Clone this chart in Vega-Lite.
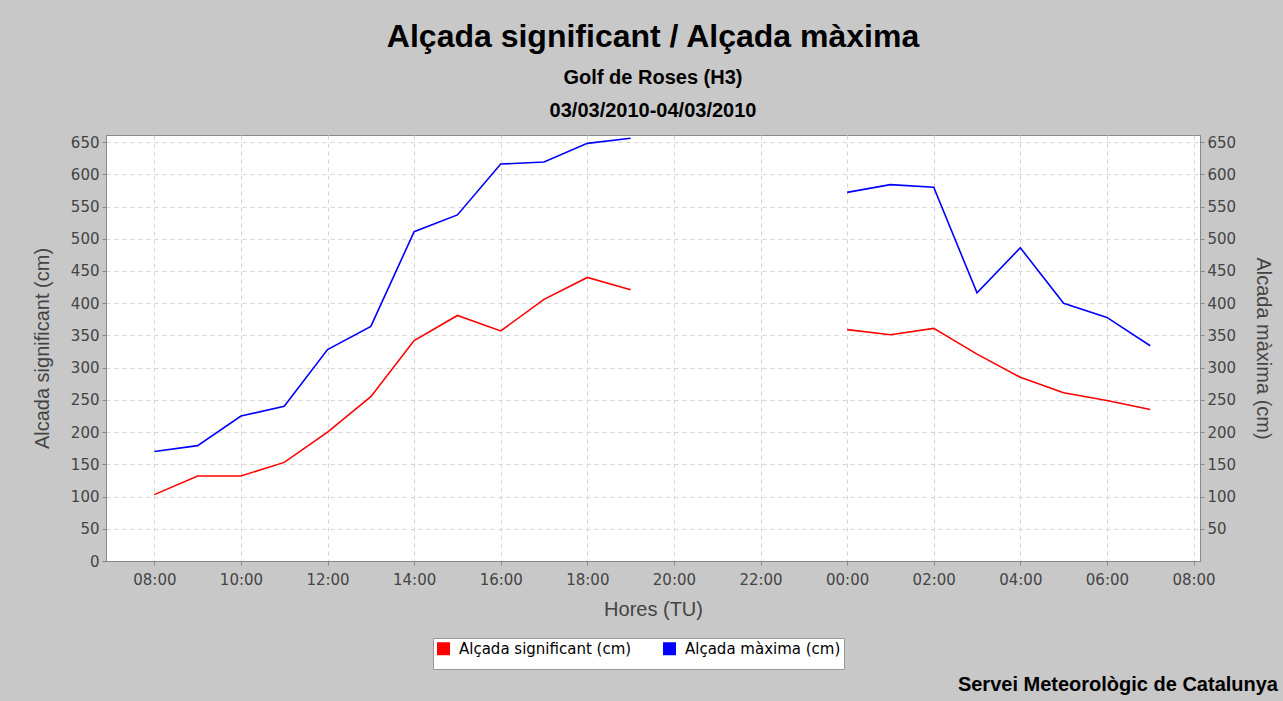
{
  "$schema": "https://vega.github.io/schema/vega-lite/v6.json",
  "autosize": "none",
  "padding": {"left": 106, "top": 135, "right": 83, "bottom": 140},
  "background": "#c8c8c8",
  "width": 1094,
  "height": 426,
  "title": {
    "text": "Alçada significant / Alçada màxima",
    "subtitle": ["Golf de Roses (H3)", "03/03/2010-04/03/2010"],
    "anchor": "middle",
    "frame": "group",
    "font": "Liberation Sans",
    "fontSize": 32,
    "fontWeight": "bold",
    "color": "#000000",
    "subtitleFont": "Liberation Sans",
    "subtitleFontSize": 20,
    "subtitleFontWeight": "bold",
    "subtitleColor": "#000000",
    "subtitleLineHeight": 33,
    "subtitlePadding": 14,
    "offset": 13
  },
  "config": {
    "view": {"stroke": "#888888", "strokeWidth": 1, "fill": "#ffffff"},
    "axis": {
      "labelFont": "DejaVu Sans",
      "labelFontSize": 15,
      "labelColor": "#444444",
      "titleFont": "Liberation Sans",
      "titleFontSize": 20,
      "titleFontWeight": "normal",
      "titleColor": "#444444",
      "domainColor": "#888888",
      "tickColor": "#888888",
      "tickSize": 4,
      "labelPadding": 3,
      "gridColor": "#d4d4d4",
      "gridDash": [4, 4],
      "gridWidth": 1
    }
  },
  "datasets": {
    "obs": [
      {"t": "2010-03-03T08:00:00Z", "d": 1, "sig": 103, "max": 170},
      {"t": "2010-03-03T09:00:00Z", "d": 1, "sig": 132, "max": 179},
      {"t": "2010-03-03T10:00:00Z", "d": 1, "sig": 132, "max": 225},
      {"t": "2010-03-03T11:00:00Z", "d": 1, "sig": 153, "max": 240},
      {"t": "2010-03-03T12:00:00Z", "d": 1, "sig": 200, "max": 328},
      {"t": "2010-03-03T13:00:00Z", "d": 1, "sig": 255, "max": 364},
      {"t": "2010-03-03T14:00:00Z", "d": 1, "sig": 342, "max": 511},
      {"t": "2010-03-03T15:00:00Z", "d": 1, "sig": 381, "max": 537},
      {"t": "2010-03-03T16:00:00Z", "d": 1, "sig": 357, "max": 616},
      {"t": "2010-03-03T17:00:00Z", "d": 1, "sig": 406, "max": 619},
      {"t": "2010-03-03T18:00:00Z", "d": 1, "sig": 440, "max": 648},
      {"t": "2010-03-03T19:00:00Z", "d": 1, "sig": 421, "max": 656},
      {"t": "2010-03-04T00:00:00Z", "d": 2, "sig": 359, "max": 572},
      {"t": "2010-03-04T01:00:00Z", "d": 2, "sig": 351, "max": 584},
      {"t": "2010-03-04T02:00:00Z", "d": 2, "sig": 361, "max": 580},
      {"t": "2010-03-04T03:00:00Z", "d": 2, "sig": 321, "max": 416},
      {"t": "2010-03-04T04:00:00Z", "d": 2, "sig": 285, "max": 486},
      {"t": "2010-03-04T05:00:00Z", "d": 2, "sig": 261, "max": 400},
      {"t": "2010-03-04T06:00:00Z", "d": 2, "sig": 249, "max": 378},
      {"t": "2010-03-04T07:00:00Z", "d": 2, "sig": 235, "max": 334}
    ],
    "credit": [
      {"label": "Servei Meteorològic de Catalunya", "t": "2010-03-04T08:09:00Z", "v": 0}
    ]
  },
  "layer": [
    {
      "data": {"name": "obs"},
      "mark": {"type": "line", "strokeWidth": 1.6},
      "encoding": {
        "x": {
          "field": "t",
          "type": "temporal",
          "scale": {
            "type": "utc",
            "domain": [
              {"year": 2010, "month": 3, "date": 3, "hours": 6, "minutes": 53, "utc": true},
              {"year": 2010, "month": 3, "date": 4, "hours": 8, "minutes": 9, "utc": true}
            ],
            "nice": false
          },
          "axis": {
            "title": "Hores (TU)",
            "format": "%H:%M",
            "values": [
              {"year": 2010, "month": 3, "date": 3, "hours": 8, "utc": true},
              {"year": 2010, "month": 3, "date": 3, "hours": 10, "utc": true},
              {"year": 2010, "month": 3, "date": 3, "hours": 12, "utc": true},
              {"year": 2010, "month": 3, "date": 3, "hours": 14, "utc": true},
              {"year": 2010, "month": 3, "date": 3, "hours": 16, "utc": true},
              {"year": 2010, "month": 3, "date": 3, "hours": 18, "utc": true},
              {"year": 2010, "month": 3, "date": 3, "hours": 20, "utc": true},
              {"year": 2010, "month": 3, "date": 3, "hours": 22, "utc": true},
              {"year": 2010, "month": 3, "date": 4, "hours": 0, "utc": true},
              {"year": 2010, "month": 3, "date": 4, "hours": 2, "utc": true},
              {"year": 2010, "month": 3, "date": 4, "hours": 4, "utc": true},
              {"year": 2010, "month": 3, "date": 4, "hours": 6, "utc": true},
              {"year": 2010, "month": 3, "date": 4, "hours": 8, "utc": true}
            ],
            "labelFlush": false,
            "labelOverlap": false,
            "labelPadding": 7,
            "titlePadding": 12
          }
        },
        "y": {
          "field": "sig",
          "type": "quantitative",
          "scale": {"domain": [0, 661], "nice": false},
          "axis": {
            "title": "Alcada significant (cm)",
            "values": [0, 50, 100, 150, 200, 250, 300, 350, 400, 450, 500, 550, 600, 650],
            "orient": "left",
            "titlePadding": 18
          }
        },
        "detail": {"field": "d", "type": "nominal"},
        "color": {
          "datum": "Alçada significant (cm)",
          "type": "nominal",
          "scale": {"domain": ["Alçada significant (cm)", "Alçada màxima (cm)"], "range": ["#ff0000", "#0000ff"]},
          "legend": {
            "title": null,
            "orient": "none",
            "legendX": 327,
            "legendY": 503,
            "direction": "horizontal",
            "columns": 2,
            "fillColor": "#ffffff",
            "strokeColor": "#999999",
            "padding": 3,
            "columnPadding": 20,
            "symbolType": "square",
            "symbolSize": 36,
            "symbolStrokeWidth": 7,
            "labelFont": "DejaVu Sans",
            "labelFontSize": 15,
            "labelLimit": 400,
            "labelColor": "#000000",
            "labelOffset": 8
          }
        }
      }
    },
    {
      "data": {"name": "obs"},
      "mark": {"type": "line", "strokeWidth": 1.6},
      "encoding": {
        "x": {"field": "t", "type": "temporal"},
        "y": {
          "field": "max",
          "type": "quantitative",
          "scale": {"domain": [0, 661], "nice": false},
          "axis": {
            "title": "Alcada màxima (cm)",
            "values": [50, 100, 150, 200, 250, 300, 350, 400, 450, 500, 550, 600, 650],
            "orient": "right",
            "titlePadding": 17,
            "grid": false
          }
        },
        "detail": {"field": "d", "type": "nominal"},
        "color": {"datum": "Alçada màxima (cm)", "type": "nominal"}
      }
    },
    {
      "data": {"name": "credit"},
      "mark": {"type": "text", "align": "right", "baseline": "alphabetic", "dx": 78, "dy": 130, "font": "Liberation Sans", "fontSize": 20, "fontWeight": "bold", "color": "#000000"},
      "encoding": {
        "x": {"field": "t", "type": "temporal"},
        "y": {"field": "v", "type": "quantitative", "scale": {"domain": [0, 661], "nice": false}, "axis": null},
        "text": {"field": "label"}
      }
    }
  ],
  "resolve": {"scale": {"y": "independent"}}
}
